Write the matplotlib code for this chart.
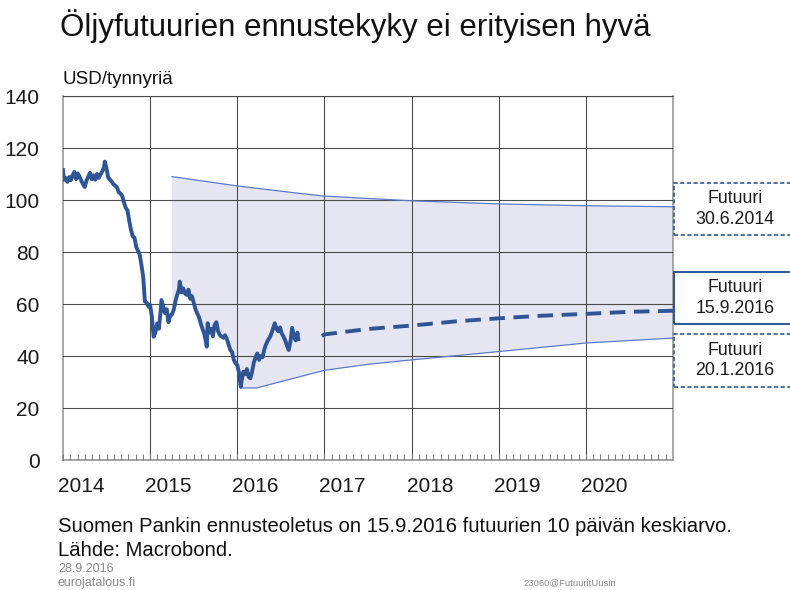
import matplotlib
matplotlib.use("Agg")
import matplotlib.pyplot as plt
from matplotlib.patches import Rectangle
import numpy as np

plt.rcParams["font.family"] = ["Liberation Sans", "DejaVu Sans"]

# Brent hinta (vuosi, USD/tynnyri), luettu kuvasta
oil_x = [
    2014.00, 2014.01, 2014.03, 2014.05, 2014.07, 2014.09, 2014.11, 2014.13, 2014.15, 2014.17,
    2014.19, 2014.21, 2014.23, 2014.25, 2014.27, 2014.29, 2014.31, 2014.33, 2014.35, 2014.37,
    2014.39, 2014.41, 2014.43, 2014.45, 2014.47, 2014.48, 2014.50, 2014.52, 2014.54, 2014.56,
    2014.58, 2014.60, 2014.62, 2014.64, 2014.66, 2014.68, 2014.70, 2014.72, 2014.74, 2014.76,
    2014.78, 2014.80, 2014.82, 2014.84, 2014.86, 2014.88, 2014.90, 2014.92, 2014.94, 2014.96,
    2014.98, 2015.00, 2015.02, 2015.04, 2015.06, 2015.08, 2015.10, 2015.12, 2015.13, 2015.15,
    2015.17, 2015.19, 2015.21, 2015.23, 2015.25, 2015.27, 2015.29, 2015.31, 2015.33, 2015.34,
    2015.36, 2015.38, 2015.40, 2015.42, 2015.44, 2015.46, 2015.48, 2015.50, 2015.52, 2015.54,
    2015.56, 2015.58, 2015.60, 2015.62, 2015.64, 2015.65, 2015.66, 2015.68, 2015.70, 2015.72,
    2015.74, 2015.76, 2015.78, 2015.80, 2015.82, 2015.84, 2015.86, 2015.88, 2015.90, 2015.92,
    2015.94, 2015.96, 2015.98, 2016.00, 2016.02, 2016.04, 2016.05, 2016.07, 2016.09, 2016.11,
    2016.13, 2016.15, 2016.17, 2016.19, 2016.21, 2016.23, 2016.25, 2016.27, 2016.29, 2016.31,
    2016.33, 2016.35, 2016.37, 2016.39, 2016.41, 2016.43, 2016.45, 2016.47, 2016.49, 2016.51,
    2016.53, 2016.55, 2016.57, 2016.59, 2016.61, 2016.63, 2016.65, 2016.67, 2016.69, 2016.70,
]
oil_y = [
    111.5, 107.8, 108.5, 107.0, 108.8, 107.6, 109.5, 110.8, 108.0, 110.2,
    109.0, 107.5, 106.0, 105.0, 107.5, 109.0, 110.5, 108.0, 109.5, 107.8,
    110.0, 108.5, 109.8, 111.0, 112.5, 114.8, 112.0, 108.5, 107.8, 107.0,
    106.0, 105.5, 104.8, 103.0, 102.5, 101.5, 99.0, 97.0, 96.0, 92.0,
    88.5, 86.0, 85.5, 82.0, 80.5, 79.0, 75.0, 70.5, 61.0, 60.5,
    59.0, 59.6, 55.0, 47.4, 49.0, 52.5, 50.5, 57.0, 61.5, 59.0,
    56.5, 58.0, 53.0, 55.5, 56.0, 57.7, 61.0, 63.5, 65.5, 68.6,
    64.5, 66.0, 64.0, 63.5, 65.5, 62.0, 63.0, 60.5, 58.0, 56.4,
    55.0, 52.5, 50.5, 48.7, 45.5, 43.6, 52.6, 49.0, 50.5, 47.6,
    52.0, 53.0, 49.5, 48.0, 47.5, 47.0, 48.0, 46.5, 44.5, 42.3,
    41.5, 38.5, 37.2, 36.5, 33.5, 28.2, 30.5, 34.0, 33.0, 35.0,
    32.0, 31.4, 34.0, 37.5, 39.5, 41.0, 38.5, 40.0, 39.5, 42.5,
    44.5, 46.0, 47.0, 48.5, 50.5, 52.6, 50.5, 49.5, 51.0, 48.7,
    47.5, 46.0, 44.0, 42.3, 45.5, 50.8, 47.5, 46.0, 49.0, 46.5,
]

# Futuuri 30.6.2014
upper_x = [2015.25, 2016.00, 2016.70, 2017.00, 2018.00, 2019.00, 2020.00, 2021.00]
upper_y = [109.0, 105.4, 102.6, 101.5, 99.7, 98.5, 97.8, 97.4]

# Futuuri 20.1.2016
lower_x = [2016.04, 2016.22, 2017.00, 2017.50, 2018.00, 2019.00, 2020.00, 2021.00]
lower_y = [27.7, 27.7, 34.5, 36.8, 38.5, 41.7, 45.0, 46.9]

# Futuuri 15.9.2016
fut_x = [2016.97, 2017.00, 2017.50, 2018.00, 2018.50, 2019.00, 2019.50, 2020.00, 2020.50, 2021.00]
fut_y = [47.7, 48.3, 50.4, 51.7, 53.3, 54.5, 55.5, 56.2, 57.0, 57.4]

years = [2014, 2015, 2016, 2017, 2018, 2019, 2020]
y_ticks = [0, 20, 40, 60, 80, 100, 120, 140]

OIL_BLUE = "#2F5597"
BAND_BLUE = "#5B7BC9"
FILL = "#E5E6F1"
GRID = "#4d4d4d"

W, H = 790, 590
fig = plt.figure(figsize=(W / 100, H / 100), dpi=100)
ax = fig.add_axes([63 / W, 1 - 460 / H, 610 / W, 364 / H])

# shaded range: top = oldest futures curve, bottom = oil price until the newer curve starts
oil_x_arr = np.array(oil_x)
oil_y_arr = np.array(oil_y)
seg = (oil_x_arr >= upper_x[0]) & (oil_x_arr < lower_x[0])
poly_x = np.concatenate([upper_x, lower_x[::-1], oil_x_arr[seg][::-1]])
poly_y = np.concatenate([upper_y, lower_y[::-1], oil_y_arr[seg][::-1]])
ax.fill(poly_x, poly_y, color=FILL, lw=0, zorder=1)

ax.plot(upper_x, upper_y, color=BAND_BLUE, lw=0.9, zorder=3)
ax.plot(lower_x, lower_y, color=BAND_BLUE, lw=0.9, zorder=3)
ax.plot(oil_x, oil_y, color=OIL_BLUE, lw=2.8, zorder=4, solid_joinstyle="round")
ax.plot(fut_x, fut_y, color=OIL_BLUE, lw=2.8, ls=(0, (4, 2.2)), zorder=4)

ax.set_xlim(2014, 2021)
ax.set_ylim(0, 140)

for yr in years[1:]:
    ax.axvline(yr, color=GRID, lw=0.8, zorder=2)
ax.set_yticks(y_ticks)
ax.yaxis.grid(True, color=GRID, lw=0.8, zorder=2)
ax.set_axisbelow(False)

ax.set_xticks([yr + 0.21 for yr in years])
ax.set_xticklabels([str(yr) for yr in years], fontsize=15, color="#1a1a1a")
ax.set_xticks(np.arange(2014, 2021, 1 / 12), minor=True)
ax.tick_params(axis="x", which="major", length=0, pad=12)
ax.tick_params(axis="x", which="minor", direction="in", length=4, color="#777777", width=0.7)
ax.tick_params(axis="y", length=0, pad=17, labelsize=15, labelcolor="#1a1a1a")

for side in ["left", "bottom", "right"]:
    ax.spines[side].set_color("#999999")
    ax.spines[side].set_linewidth(1.2)
ax.spines["top"].set_color(GRID)
ax.spines["top"].set_linewidth(0.8)

fig.text(60 / W, 1 - 26 / H, "Öljyfutuurien ennustekyky ei erityisen hyvä",
         fontsize=22.5, va="center", ha="left", color="#111111")
fig.text(63 / W, 1 - 80 / H, "USD/tynnyriä", fontsize=13.5, va="center", ha="left",
         color="#111111")

# futures labels on the right
boxes = [
    (183, 235, "Futuuri\n30.6.2014", "--"),
    (272, 324, "Futuuri\n15.9.2016", "-"),
    (334, 387, "Futuuri\n20.1.2016", "--"),
]
for top, bottom, label, style in boxes:
    rect = Rectangle((674 / W, 1 - bottom / H), 130 / W, (bottom - top) / H,
                     transform=fig.transFigure, fill=False, edgecolor=OIL_BLUE,
                     lw=1.2 if style == "--" else 1.4, ls=(0, (2.5, 1.5)) if style == "--" else "-",
                     clip_on=False)
    fig.add_artist(rect)
    fig.text(735 / W, 1 - (top + bottom) / 2 / H, label, fontsize=12.8, ha="center",
             va="center", linespacing=1.25, color="#1a1a1a")

fig.text(58 / W, 1 - 526 / H,
         "Suomen Pankin ennusteoletus on 15.9.2016 futuurien 10 päivän keskiarvo.",
         fontsize=14.6, va="center", color="#111111")
fig.text(58 / W, 1 - 551 / H, "Lähde: Macrobond.", fontsize=14.6, va="center",
         color="#111111")
fig.text(58 / W, 1 - 569 / H, "28.9.2016", fontsize=9, va="center", color="#888888")
fig.text(58 / W, 1 - 583 / H, "eurojatalous.fi", fontsize=9, va="center", color="#888888")
fig.text(523 / W, 1 - 583 / H, "23060@FutuuritUusin", fontsize=6.8, va="center",
         color="#888888")

fig.savefig("out.png", dpi=100)
